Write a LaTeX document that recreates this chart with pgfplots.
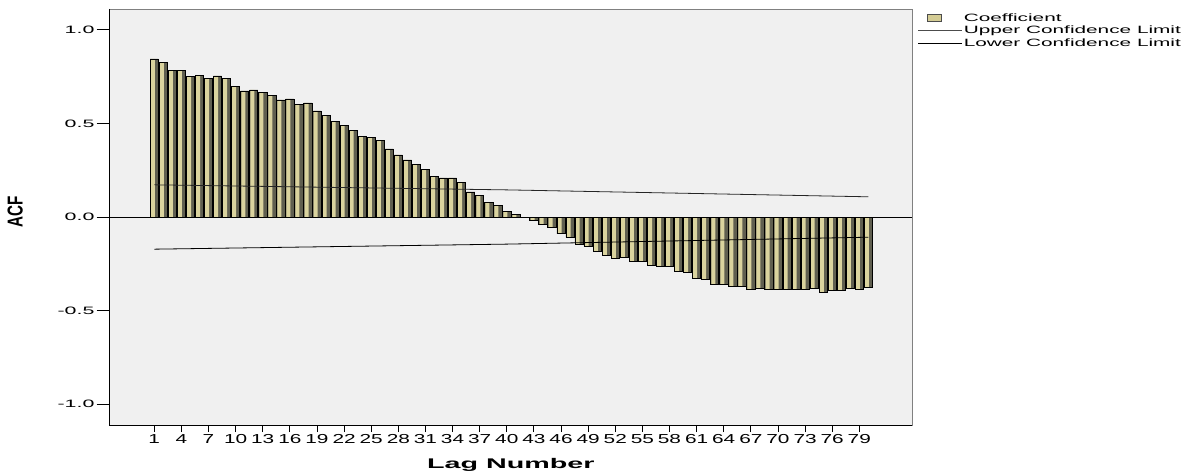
\documentclass[border=0pt]{standalone}
\usepackage{fontspec}
\usepackage{pgfplots}
\usepackage{pgfplotstable}
\pgfplotsset{compat=1.18}
\usetikzlibrary{calc}
\setmainfont{Liberation Sans}
\newfontfamily\xtf{Liberation Sans}[FakeStretch=1.6]
\newfontfamily\ytf{Liberation Sans}[FakeStretch=2.0]
\newfontfamily\lgf{Liberation Sans}[FakeStretch=1.96]
\newfontfamily\ttlf{Liberation Sans}[FakeStretch=2.05]
\definecolor{barlight}{RGB}{218,211,158}
\definecolor{bardark}{RGB}{96,95,80}
\definecolor{swatch}{RGB}{212,204,148}
\definecolor{plotbg}{RGB}{240,240,240}

\pgfplotstableread{
lag acf
1 0.845
2 0.827
3 0.782
4 0.782
5 0.750
6 0.756
7 0.740
8 0.754
9 0.740
10 0.699
11 0.674
12 0.679
13 0.665
14 0.649
15 0.626
16 0.631
17 0.604
18 0.610
19 0.567
20 0.542
21 0.513
22 0.488
23 0.465
24 0.429
25 0.426
26 0.410
27 0.364
28 0.332
29 0.305
30 0.280
31 0.253
32 0.219
33 0.209
34 0.209
35 0.187
36 0.134
37 0.116
38 0.077
39 0.061
40 0.032
41 0.016
42 -0.003
43 -0.017
44 -0.041
45 -0.055
46 -0.090
47 -0.109
48 -0.144
49 -0.157
50 -0.183
51 -0.205
52 -0.222
53 -0.216
54 -0.235
55 -0.237
56 -0.257
57 -0.264
58 -0.266
59 -0.292
60 -0.295
61 -0.328
62 -0.331
63 -0.358
64 -0.358
65 -0.369
66 -0.373
67 -0.385
68 -0.381
69 -0.385
70 -0.389
71 -0.387
72 -0.387
73 -0.387
74 -0.381
75 -0.401
76 -0.392
77 -0.394
78 -0.381
79 -0.385
80 -0.374
}\acfdata

\pgfplotstableread{
lag ucl
1 0.172
40 0.145
80 0.108
}\upperdata

\pgfplotstableread{
lag lcl
1 -0.172
40 -0.145
80 -0.108
}\lowerdata

\begin{document}
\begin{tikzpicture}
\begin{axis}[
  name=ax,
  scale only axis,
  width=802.3pt, height=416pt,
  xmin=-3.93, xmax=84.83,
  ymin=-1.112, ymax=1.112,
  axis background/.style={fill=plotbg},
  axis line style={draw=black!50, line width=0.9pt},
  xtick={1,4,...,79},
  ytick={-1,-0.5,0,0.5,1},
  yticklabels={-1.0,-0.5,0.0,0.5,1.0},
  extra y ticks={-1,-0.5,0,0.5,1},
  extra y tick labels={},
  extra y tick style={major tick length=13pt},
  tick align=outside,
  major tick length=7pt,
  tick style={black, line width=0.9pt},
  xtick pos=bottom, ytick pos=left,
  /pgf/number format/assume math mode=true,
  xticklabel style={font=\xtf\fontsize{13}{13}\selectfont, inner sep=2.5pt},
  yticklabel style={font=\ytf\fontsize{10.7}{11}\selectfont, inner sep=2pt, xshift=-6pt},
  no markers,
  legend cell align=left,
  legend style={at={(rel axis cs:1,1)}, anchor=north west, xshift=6pt, yshift=-3.5pt,
    draw=none, fill=none, inner sep=0pt, outer sep=0pt,
    font=\lgf\fontsize{10.6}{10.6}\selectfont, row sep=1.5pt,
    nodes={inner sep=1pt},
    /tikz/every even column/.append style={column sep=0pt}},
]
% dark body of each bar
\addplot[ybar, bar width=8.3pt, draw=none, fill=bardark,
  legend image code/.code={\path[draw=none, fill=none] (0pt,0pt) -- (44pt,0pt);
    \draw[fill=swatch, draw=black!70, line width=0.8pt] (9pt,-3.5pt) rectangle (23pt,4pt);}]
  table[x=lag, y=acf]{\acfdata};
\addlegendentry{Coefficient}
% light highlight stripe
\addplot[ybar, bar width=4pt, bar shift=-1.4pt, draw=none, fill=barlight, forget plot]
  table[x=lag, y=acf]{\acfdata};
% outline
\addplot[ybar, bar width=8.3pt, draw=black, fill=none, line width=0.7pt, forget plot]
  table[x=lag, y=acf]{\acfdata};
\addplot[black!85, line width=0.8pt,
  legend image code/.code={\draw[black!70, line width=0.8pt] (0pt,0pt) -- (44pt,0pt);}]
  table[x=lag, y=ucl]{\upperdata};
\addlegendentry{Upper Confidence Limit}
\addplot[black, line width=0.8pt,
  legend image code/.code={\draw[black, line width=0.8pt] (0pt,0pt) -- (44pt,0pt);}]
  table[x=lag, y=lcl]{\lowerdata};
\addlegendentry{Lower Confidence Limit}
\addplot[black, line width=0.8pt, forget plot] coordinates {(-3.93,0) (84.83,0)};
\end{axis}
\draw[black, line width=0.9pt] (ax.north west) -- (ax.south west) -- (ax.south east);
\node[anchor=south, rotate=90, inner sep=0pt,
  font=\bfseries\fontsize{16}{16}\selectfont]
  at ($(ax.west)+(-86.7pt,5pt)$) {\scalebox{0.95}[1.35]{ACF}};
\node[anchor=north, inner sep=0pt, font=\ttlf\bfseries\fontsize{14}{14}\selectfont]
  at ($(ax.south)+(0,-33pt)$) {Lag Number};
\pgfresetboundingbox
\path ($(ax.south west)+(-109.7pt,-49pt)$) rectangle ($(ax.north east)+(281pt,9pt)$);
\end{tikzpicture}
\end{document}
